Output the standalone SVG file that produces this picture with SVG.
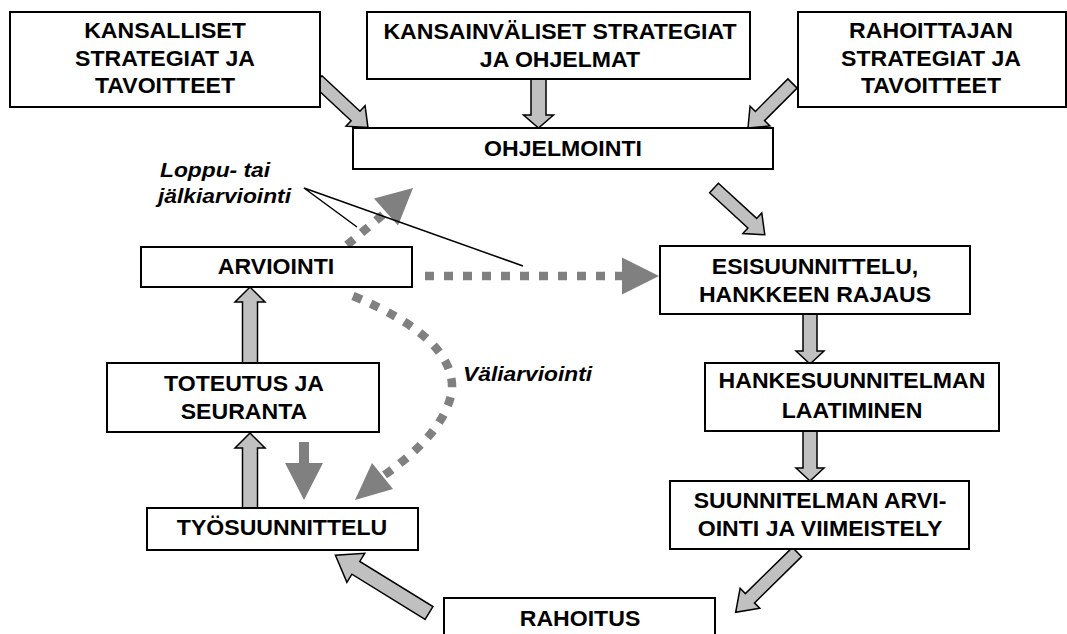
<svg xmlns="http://www.w3.org/2000/svg" width="1067" height="634" viewBox="0 0 1067 634">
  <style>
    .box { fill: #ffffff; stroke: #000000; stroke-width: 2; }
    .lbl { font-family: "Liberation Sans", Arial, sans-serif; font-weight: bold; font-size: 22px; text-anchor: middle; fill: #000000; }
    .note { font-family: "Liberation Sans", Arial, sans-serif; font-weight: bold; font-style: italic; font-size: 20px; fill: #000000; }
    .blk { fill: #c0c0c0; stroke: #000000; stroke-width: 1.5; stroke-linejoin: miter; }
    .dark { fill: #808080; stroke: none; }
    .dots { fill: none; stroke: #808080; stroke-width: 8.5; stroke-dasharray: 9 10; }
    .callout { fill: none; stroke: #000000; stroke-width: 1.5; }
  </style>

  <!-- connectors -->
  <g id="connectors">
    <!-- block arrows: tail at origin, pointing along +x -->
    <polygon class="blk" transform="translate(317.5,80.5) rotate(43)" points="0,-6.5 52,-6.5 52,-14 69,0 52,14 52,6.5 0,6.5"/>
    <polygon class="blk" transform="translate(538.5,79) rotate(90)" points="0,-7.5 36,-7.5 36,-15 49,0 36,15 36,7.5 0,7.5"/>
    <polygon class="blk" transform="translate(792.5,83.5) rotate(135)" points="0,-6.5 46,-6.5 46,-14 63,0 46,14 46,6.5 0,6.5"/>
    <polygon class="blk" transform="translate(714,188) rotate(42.6)" points="0,-6.5 52,-6.5 52,-14 69,0 52,14 52,6.5 0,6.5"/>
    <polygon class="blk" transform="translate(810,314) rotate(90)" points="0,-7 37,-7 37,-14 50,0 37,14 37,7 0,7"/>
    <polygon class="blk" transform="translate(810,431) rotate(90)" points="0,-7 37,-7 37,-14 50,0 37,14 37,7 0,7"/>
    <polygon class="blk" transform="translate(797,552) rotate(135.5)" points="0,-6.5 66,-6.5 66,-14 86,0 66,14 66,6.5 0,6.5"/>
    <polygon class="blk" transform="translate(429,613) rotate(211.7)" points="0,-7.5 86,-7.5 86,-17 110,0 86,17 86,7.5 0,7.5"/>
    <polygon class="blk" transform="translate(250,508) rotate(-90)" points="0,-7.5 60,-7.5 60,-15 75,0 60,15 60,7.5 0,7.5"/>
    <polygon class="blk" transform="translate(250,363) rotate(-90)" points="0,-7.5 61,-7.5 61,-15 76,0 61,15 61,7.5 0,7.5"/>

    <!-- solid dark arrow down to work planning -->
    <polygon class="dark" points="299,442 309,442 309,463 323,463 304,500 285,463 299,463"/>

    <!-- dotted evaluation arrows -->
    <line class="dots" x1="425" y1="276" x2="622" y2="276"/>
    <polygon class="dark" points="622,257.5 659,276 622,294.5"/>

    <line class="dots" x1="347" y1="245" x2="386" y2="212"/>
    <polygon class="dark" points="374,198.5 413,188 398,225.5"/>

    <path class="dots" d="M353,296 Q455,338 452,390 Q446,432 383,476"/>
    <polygon class="dark" points="372,463 393,489 355,500"/>

    <!-- callout lines for the final evaluation label -->
    <polyline class="callout" points="357,227 304,188 523,266"/>
  </g>

  <g id="kansalliset">
    <rect class="box" x="10" y="12" width="310" height="95"/>
    <text class="lbl" transform="translate(165,38) scale(1.05,1)">KANSALLISET</text>
    <text class="lbl" transform="translate(165,66) scale(1.05,1)">STRATEGIAT JA</text>
    <text class="lbl" transform="translate(165,93) scale(1.05,1)">TAVOITTEET</text>
  </g>

  <g id="kansainvaliset">
    <rect class="box" x="367" y="12" width="383" height="67"/>
    <text class="lbl" transform="translate(560,39) scale(1.05,1)">KANSAINVÄLISET STRATEGIAT</text>
    <text class="lbl" transform="translate(560,67) scale(1.05,1)">JA OHJELMAT</text>
  </g>

  <g id="rahoittajan">
    <rect class="box" x="798" y="12" width="268" height="95"/>
    <text class="lbl" transform="translate(931,38) scale(1.05,1)">RAHOITTAJAN</text>
    <text class="lbl" transform="translate(931,66) scale(1.05,1)">STRATEGIAT JA</text>
    <text class="lbl" transform="translate(931,93) scale(1.05,1)">TAVOITTEET</text>
  </g>

  <g id="ohjelmointi">
    <rect class="box" x="353" y="128" width="420" height="41"/>
    <text class="lbl" transform="translate(563,156) scale(1.05,1)">OHJELMOINTI</text>
  </g>

  <g id="esisuunnittelu">
    <rect class="box" x="660" y="246" width="310" height="68"/>
    <text class="lbl" transform="translate(815,274) scale(1.05,1)">ESISUUNNITTELU,</text>
    <text class="lbl" transform="translate(815,302) scale(1.05,1)">HANKKEEN RAJAUS</text>
  </g>

  <g id="hankesuunnitelma">
    <rect class="box" x="705" y="363" width="294" height="68"/>
    <text class="lbl" transform="translate(852,388) scale(1.05,1)">HANKESUUNNITELMAN</text>
    <text class="lbl" transform="translate(852,418) scale(1.05,1)">LAATIMINEN</text>
  </g>

  <g id="suunnitelman-arviointi">
    <rect class="box" x="670" y="481" width="299" height="68"/>
    <text class="lbl" transform="translate(820,508) scale(1.05,1)">SUUNNITELMAN ARVI-</text>
    <text class="lbl" transform="translate(820,536) scale(1.05,1)">OINTI JA VIIMEISTELY</text>
  </g>

  <g id="rahoitus">
    <rect class="box" x="444" y="598" width="271" height="60"/>
    <text class="lbl" transform="translate(580,626) scale(1.05,1)">RAHOITUS</text>
  </g>

  <g id="tyosuunnittelu">
    <rect class="box" x="147" y="508" width="271" height="42"/>
    <text class="lbl" transform="translate(282,535) scale(1.05,1)">TYÖSUUNNITTELU</text>
  </g>

  <g id="toteutus">
    <rect class="box" x="107" y="363" width="272" height="69"/>
    <text class="lbl" transform="translate(244,391) scale(1.05,1)">TOTEUTUS JA</text>
    <text class="lbl" transform="translate(244,419) scale(1.05,1)">SEURANTA</text>
  </g>

  <g id="arviointi">
    <rect class="box" x="141" y="247" width="271" height="40"/>
    <text class="lbl" transform="translate(276,274) scale(1.05,1)">ARVIOINTI</text>
  </g>

  <g id="labels">
    <text class="note" transform="translate(160,177) scale(1.14,1)">Loppu- tai</text>
    <text class="note" transform="translate(158,203) scale(1.14,1)">jälkiarviointi</text>
    <text class="note" transform="translate(463,381) scale(1.14,1)">Väliarviointi</text>
  </g>
</svg>
